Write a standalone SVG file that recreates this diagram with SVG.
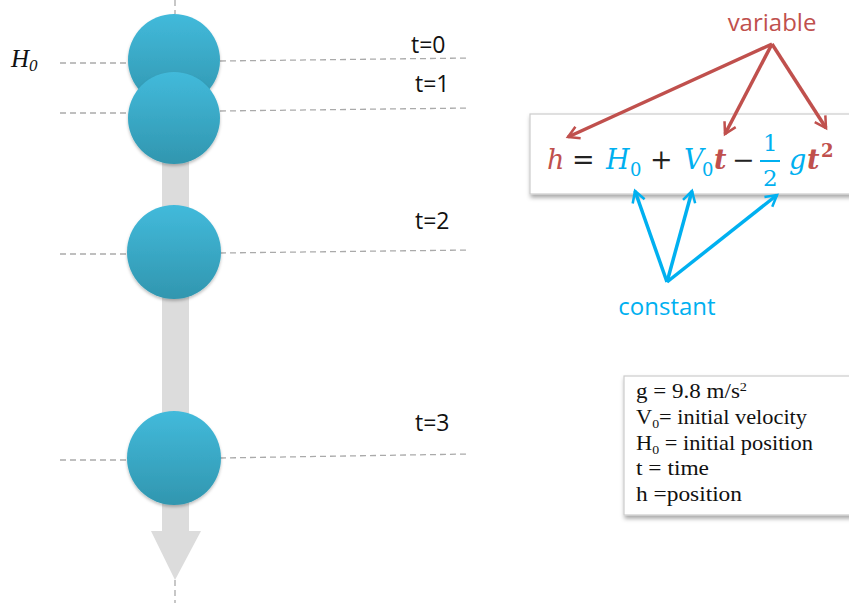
<svg xmlns="http://www.w3.org/2000/svg" width="849" height="603" viewBox="0 0 849 603">
<style>
.dash{stroke:#aaa;stroke-width:1.3;stroke-dasharray:6 4;fill:none}
.lbl{font-family:"Open Sans","Liberation Sans",sans-serif;font-size:23px;fill:#111}
.eq{font-family:"DejaVu Serif","Liberation Serif",serif;font-size:27px}
.sub{font-size:18px}
.frac{font-size:23px}
.red{fill:#C0504D}
.blue{fill:#00B0F0}
.blk{fill:#222}
.legend{font-family:"Liberation Serif",serif;font-size:21px;fill:#111}
.ls{font-size:13px}
.ra{stroke:#C0504D;stroke-width:3.5;fill:none;marker-end:url(#mr)}
.ba{stroke:#00B0F0;stroke-width:3.5;fill:none;marker-end:url(#mb)}
.word{font-family:"Open Sans","Liberation Sans",sans-serif;font-size:24px}
</style>
<defs>
<linearGradient id="bg" x1="0" y1="0" x2="0" y2="1">
<stop offset="0" stop-color="#42BADB"/>
<stop offset="1" stop-color="#3196AF"/>
</linearGradient>
<filter id="sh" x="-20%" y="-20%" width="140%" height="150%">
<feDropShadow dx="1" dy="3" stdDeviation="2" flood-color="#000" flood-opacity="0.35"/>
</filter>
<filter id="bs" x="-20%" y="-20%" width="140%" height="140%">
<feDropShadow dx="0" dy="2" stdDeviation="1.5" flood-color="#000" flood-opacity="0.25"/>
</filter>
<marker id="mr" viewBox="0 0 10 10" refX="8" refY="5" markerWidth="4.5" markerHeight="4.5" orient="auto" markerUnits="strokeWidth">
<path d="M1,1 L8,5 L1,9" fill="none" stroke="#C0504D" stroke-width="1.6"/>
</marker>
<marker id="mb" viewBox="0 0 10 10" refX="8" refY="5" markerWidth="4.5" markerHeight="4.5" orient="auto" markerUnits="strokeWidth">
<path d="M1,1 L8,5 L1,9" fill="none" stroke="#00B0F0" stroke-width="1.6"/>
</marker>
</defs>
<rect width="849" height="603" fill="#fff"/>
<g id="guides">
<line class="dash" x1="175" y1="0" x2="175" y2="14"/>
<line class="dash" x1="175" y1="580" x2="175" y2="603"/>
<line class="dash" x1="60" y1="63" x2="130" y2="63"/>
<line class="dash" x1="220" y1="61" x2="470" y2="58"/>
<line class="dash" x1="60" y1="113" x2="130" y2="113"/>
<line class="dash" x1="220" y1="111" x2="470" y2="108"/>
<line class="dash" x1="60" y1="254" x2="130" y2="254"/>
<line class="dash" x1="220" y1="253" x2="470" y2="250"/>
<line class="dash" x1="60" y1="460" x2="130" y2="460"/>
<line class="dash" x1="220" y1="458" x2="470" y2="454"/>
</g>
<g id="fall-arrow">
<polygon points="162,110 189,110 189,531 201,531 175,580 151,531 162,531" fill="#DCDCDC"/>
</g>
<g id="ball-t0"><circle cx="174" cy="60" r="46" fill="url(#bg)" filter="url(#bs)"/></g>
<g id="ball-t1"><circle cx="174" cy="118" r="46" fill="url(#bg)" filter="url(#bs)"/></g>
<g id="ball-t2"><circle cx="174" cy="252" r="47" fill="url(#bg)" filter="url(#bs)"/></g>
<g id="ball-t3"><circle cx="174" cy="458" r="47" fill="url(#bg)" filter="url(#bs)"/></g>
<g id="labels">
<text x="11" y="67" font-family="Liberation Serif,serif" font-style="italic" font-size="25" fill="#111">H<tspan style="font-size:17px" dy="4">0</tspan></text>
<text class="lbl" x="411" y="53">t=0</text>
<text class="lbl" x="415" y="92">t=1</text>
<text class="lbl" x="415" y="229">t=2</text>
<text class="lbl" x="415" y="431">t=3</text>
</g>
<g id="equation">
<rect x="530" y="114" width="330" height="80" fill="#fff" stroke="#ccc" stroke-width="1.2" filter="url(#sh)"/>
<text class="eq red" x="547" y="169" font-style="italic">h</text>
<text class="eq blk" x="572" y="169">=</text>
<text class="eq blue" x="606" y="169" font-style="italic">H</text>
<text class="eq blue sub" x="630" y="176">0</text>
<text class="eq blk" x="650" y="169">+</text>
<text class="eq blue" x="684" y="169" font-style="italic">V</text>
<text class="eq blue sub" x="702" y="176">0</text>
<text class="eq red" x="714" y="169" font-style="italic" font-weight="bold">t</text>
<text class="eq blk" x="732" y="169">−</text>
<text class="eq blue frac" x="763" y="151">1</text>
<rect x="760" y="160" width="20" height="2" fill="#00B0F0"/>
<text class="eq blue frac" x="763" y="186">2</text>
<text class="eq blue" x="789" y="169" font-style="italic">g</text>
<text class="eq red" x="807" y="169" font-style="italic" font-weight="bold">t</text>
<text class="eq red sub" x="821" y="157" font-weight="bold">2</text>
</g>
<g id="variable">
<text class="word" x="772" y="31" text-anchor="middle" fill="#C0504D">variable</text>
</g>
<g id="constant">
<text class="word" x="667" y="315" text-anchor="middle" fill="#00B0F0">constant</text>
</g>
<g id="legend">
<rect x="624" y="376" width="240" height="139" fill="#fff" stroke="#ccc" stroke-width="1.2" filter="url(#sh)"/>
<text class="legend" x="636" y="398" textLength="111" lengthAdjust="spacingAndGlyphs">g = 9.8 m/s<tspan class="ls" dy="-7">2</tspan></text>
<text class="legend" x="636" y="424" textLength="171" lengthAdjust="spacingAndGlyphs">V<tspan class="ls" dy="4">0</tspan><tspan dy="-4">= initial velocity</tspan></text>
<text class="legend" x="636" y="450" textLength="177" lengthAdjust="spacingAndGlyphs">H<tspan class="ls" dy="4">0</tspan><tspan dy="-4"> = initial position</tspan></text>
<text class="legend" x="636" y="475" textLength="73" lengthAdjust="spacingAndGlyphs">t = time</text>
<text class="legend" x="636" y="501" textLength="106" lengthAdjust="spacingAndGlyphs">h =position</text>
</g>
<g id="connectors">
<line class="ra" x1="772" y1="44" x2="568" y2="137"/>
<line class="ra" x1="772" y1="44" x2="725" y2="134"/>
<line class="ra" x1="772" y1="44" x2="826" y2="128"/>
<line class="ba" x1="667" y1="282" x2="635" y2="191"/>
<line class="ba" x1="667" y1="282" x2="692" y2="191"/>
<line class="ba" x1="667" y1="282" x2="777" y2="195"/>
</g>
</svg>
